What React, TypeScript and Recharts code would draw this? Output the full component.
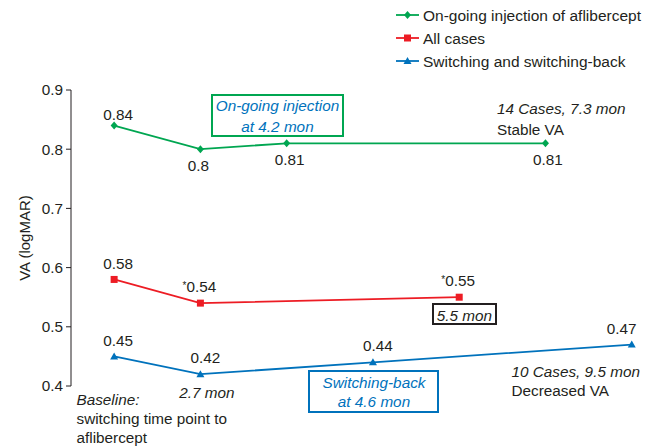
import React from "react";
import { LineChart, Line, XAxis, YAxis, Legend } from "recharts";

// slot index along the time axis (not to scale, as in the figure)
const greenSlots = [0, 1, 2, 5];
const greenValues = [0.84, 0.8, 0.81, 0.81];
const redSlots = [0, 1, 4];
const redValues = [0.58, 0.54, 0.55];
const redMarks = ["", "*", "*"];
const blueSlots = [0, 1, 3, 6];
const blueValues = [0.45, 0.42, 0.44, 0.47];
const yTicks = [0.4, 0.5, 0.6, 0.7, 0.8, 0.9];

const GREEN = "#00a651";
const RED = "#ed1c24";
const BLUE = "#0072bc";
const INK = "#231f20";
const FONT = "'Liberation Sans', Arial, sans-serif";

const toRows = (slots: number[], values: number[], marks?: string[]) =>
  slots.map((x, i) => ({ x, v: values[i], mark: marks ? marks[i] : "" }));

const greenData = toRows(greenSlots, greenValues);
const redData = toRows(redSlots, redValues, redMarks);
const blueData = toRows(blueSlots, blueValues);

// label placement relative to each point: [dx, dy of baseline]
const greenLabelPos = [[4, -6], [-2, 22], [3, 22], [2.5, 22]];
const redLabelPos = [[4, -10], [-1, -11], [-1, -11]];
const blueLabelPos = [[4, -10], [5, -11], [5, -11], [-10, -11]];

function marker(shape: string, color: string, cx: number, cy: number) {
  if (shape === "diamond")
    return <polygon points={`${cx},${cy - 4} ${cx + 3.5},${cy} ${cx},${cy + 4} ${cx - 3.5},${cy}`} fill={color} />;
  if (shape === "square")
    return <rect x={cx - 3.5} y={cy - 3.5} width={7} height={7} fill={color} />;
  return <polygon points={`${cx},${cy - 4} ${cx + 4},${cy + 3} ${cx - 4},${cy + 3}`} fill={color} />;
}

const makeDot = (shape: string, color: string, pos: number[][]) => (props: any) => {
  const { cx, cy, index, payload } = props;
  if (cx == null || cy == null) return <g key={index} />;
  const [dx, dy] = pos[index] || [0, -10];
  return (
    <g key={`${shape}-${index}`}>
      {marker(shape, color, cx, cy)}
      <text x={cx + dx} y={cy + dy} textAnchor="middle" fontSize={15.3} fill={INK} fontFamily={FONT}>
        {payload.mark ? <tspan fontSize={10} dy={-3}>{payload.mark}</tspan> : null}
        <tspan dy={payload.mark ? 3 : 0}>{String(payload.v)}</tspan>
      </text>
    </g>
  );
};

const series = [
  { name: "On-going injection of aflibercept", color: GREEN, shape: "diamond" },
  { name: "All cases", color: RED, shape: "square" },
  { name: "Switching and switching-back", color: BLUE, shape: "triangle" },
];

function LegendBox() {
  return (
    <svg width={260} height={75} style={{ display: "block" }}>
      {series.map((s, i) => {
        const y = 15 + i * 23;
        return (
          <g key={s.name}>
            <line x1={6} x2={29} y1={y} y2={y} stroke={s.color} strokeWidth={1.8} />
            {marker(s.shape, s.color, 17.5, y)}
            <text x={33} y={y + 5.5} fontSize={15.5} fill={INK} fontFamily={FONT}>{s.name}</text>
          </g>
        );
      })}
    </svg>
  );
}

function YTitle(props: any) {
  const vb = props.viewBox || {};
  const cy = (vb.y || 0) + (vb.height || 0) / 2;
  return (
    <text x={24} y={cy} transform={`rotate(-90 24 ${cy})`} textAnchor="middle" dominantBaseline="central"
      fontSize={15} fill={INK} fontFamily={FONT}>
      VA (logMAR)
    </text>
  );
}

const italic = { fontStyle: "italic" as const };

function Notes() {
  return (
    <svg width={651} height={448} style={{ position: "absolute", left: 0, top: 0, pointerEvents: "none" }}
      fontFamily={FONT} fontSize={15.3}>
      <rect x={212} y={95} width={131} height={41} fill="none" stroke={GREEN} strokeWidth={2} />
      <text x={277.5} y={110.5} textAnchor="middle" fill={BLUE} style={italic}>On-going injection</text>
      <text x={277.5} y={131.5} textAnchor="middle" fill={BLUE} style={italic}>at 4.2 mon</text>

      <text x={497} y={114} fill={INK} style={italic}>14 Cases, 7.3 mon</text>
      <text x={497} y={135} fill={INK}>Stable VA</text>

      <rect x={433} y={304} width={63} height={20} fill="none" stroke={INK} strokeWidth={2} />
      <text x={464.5} y={320.5} textAnchor="middle" fill={INK} style={italic}>5.5 mon</text>

      <rect x={309} y={371} width={129} height={41} fill="none" stroke={BLUE} strokeWidth={2} />
      <text x={374} y={388} textAnchor="middle" fill={BLUE} style={italic}>Switching-back</text>
      <text x={374} y={406.5} textAnchor="middle" fill={BLUE} style={italic}>at 4.6 mon</text>

      <text x={207} y={397.5} textAnchor="middle" fill={INK} style={italic}>2.7 mon</text>

      <text x={76.5} y={405} fill={INK} style={italic}>Baseline:</text>
      <text x={76.5} y={424} fill={INK}>switching time point to</text>
      <text x={76.5} y={442.5} fill={INK}>aflibercept</text>

      <text x={511.5} y={377} fill={INK} style={italic}>10 Cases, 9.5 mon</text>
      <text x={511.5} y={396} fill={INK}>Decreased VA</text>
    </svg>
  );
}

export default function App() {
  return (
    <div style={{ position: "absolute", left: 0, top: 0, width: 651, height: 448, background: "#fff" }}>
      <LineChart width={651} height={448} margin={{ top: 90, right: 2, bottom: 62, left: 0 }}>
        <XAxis type="number" dataKey="x" domain={[-0.5, 6.2]} hide allowDuplicatedCategory={false} />
        <YAxis
          width={71}
          type="number"
          domain={[0.4, 0.9]}
          ticks={yTicks}
          tickFormatter={(v: number) => v.toFixed(1)}
          stroke={INK}
          tickSize={5}
          tickMargin={3}
          tick={{ fill: INK, fontSize: 15.3, fontFamily: FONT }}
          label={<YTitle />}
        />
        <Legend
          layout="vertical"
          align="center"
          verticalAlign="middle"
          wrapperStyle={{ position: "absolute", left: 390, top: 0, width: 260 }}
          content={() => <LegendBox />}
        />
        <Line data={greenData} dataKey="v" name={series[0].name} stroke={GREEN} strokeWidth={1.8}
          dot={makeDot("diamond", GREEN, greenLabelPos)} isAnimationActive={false} />
        <Line data={redData} dataKey="v" name={series[1].name} stroke={RED} strokeWidth={1.8}
          dot={makeDot("square", RED, redLabelPos)} isAnimationActive={false} />
        <Line data={blueData} dataKey="v" name={series[2].name} stroke={BLUE} strokeWidth={1.8}
          dot={makeDot("triangle", BLUE, blueLabelPos)} isAnimationActive={false} />
      </LineChart>
      <Notes />
    </div>
  );
}
